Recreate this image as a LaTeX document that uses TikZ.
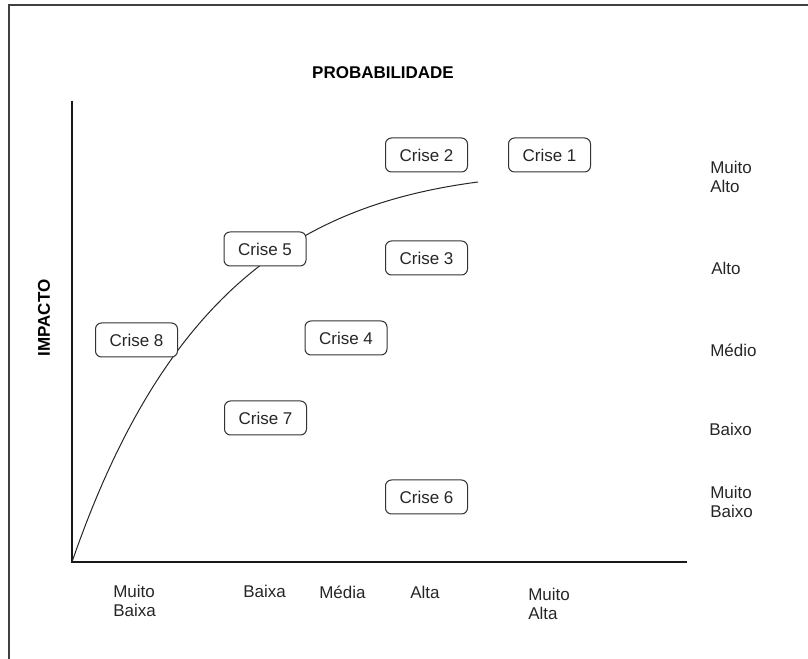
\documentclass[tikz,border=0pt]{standalone}
\usepackage{fontspec}
\setmainfont{Liberation Sans}
\begin{document}
\begin{tikzpicture}[x=0.75pt,y=-0.75pt,
  every node/.style={font=\fontsize{12.75}{14.5}\selectfont, text=black!85},
  crise/.style={draw=black!80, line width=0.75pt, rounded corners=4.5pt, fill=white,
    minimum width=61.5pt, minimum height=25.5pt, inner sep=0pt},
  lbl/.style={anchor=north west, align=left, inner sep=0pt},
  title/.style={font=\fontsize{12.75}{14.5}\selectfont\bfseries, text=black},
  axis/.style={draw=black!90, line width=0.8pt},
  frame/.style={draw=black!75, line width=1.2pt}]
\useasboundingbox (0,0) rectangle (808,659);
% outer frame (top and left edges)
\coordinate (ftl) at (9,5);
\coordinate (ftr) at (810,5);
\coordinate (fbl) at (9,661);
\draw[frame] (fbl) -- (ftl) -- (ftr);
% axes
\coordinate (origin) at (72,562);
\coordinate (ytop) at (72,101);
\coordinate (xend) at (687,562);
\coordinate (cend) at (478,182);
\draw[axis] (ytop) -- (origin) -- (xend);
% curve
\draw[black!85, line width=0.75pt] (origin) .. controls (168,284) and (307,204.5) .. (cend);
% titles
\node[title] (prob) at (383,73) {PROBABILIDADE};
\node[title, rotate=90] (imp) at (44,318) {IMPACTO};
% crisis boxes
\node[crise] (c2) at (426.5,155) {Crise 2};
\node[crise] (c1) at (549.5,155) {Crise 1};
\node[crise] (c5) at (265,249) {Crise 5};
\node[crise] (c3) at (426.5,258) {Crise 3};
\node[crise] (c8) at (136.5,340) {Crise 8};
\node[crise] (c4) at (346,338) {Crise 4};
\node[crise] (c7) at (265.5,418) {Crise 7};
\node[crise] (c6) at (426.5,497) {Crise 6};
% x-axis labels
\node[lbl] (xmb) at (113,584.5) {Muito\\Baixa};
\node[lbl] (xb) at (243,584.5) {Baixa};
\node[lbl] (xm) at (319,585.5) {Média};
\node[lbl] (xa) at (410,585.5) {Alta};
\node[lbl] (xma) at (528,587.5) {Muito\\Alta};
% y-axis labels
\node[lbl] (yma) at (710,160.5) {Muito\\Alto};
\node[lbl] (ya) at (711,261.5) {Alto};
\node[lbl] (ym) at (710,343.5) {Médio};
\node[lbl] (yb) at (709,422.5) {Baixo};
\node[lbl] (ymb) at (710,485.5) {Muito\\Baixo};
\end{tikzpicture}
\end{document}
